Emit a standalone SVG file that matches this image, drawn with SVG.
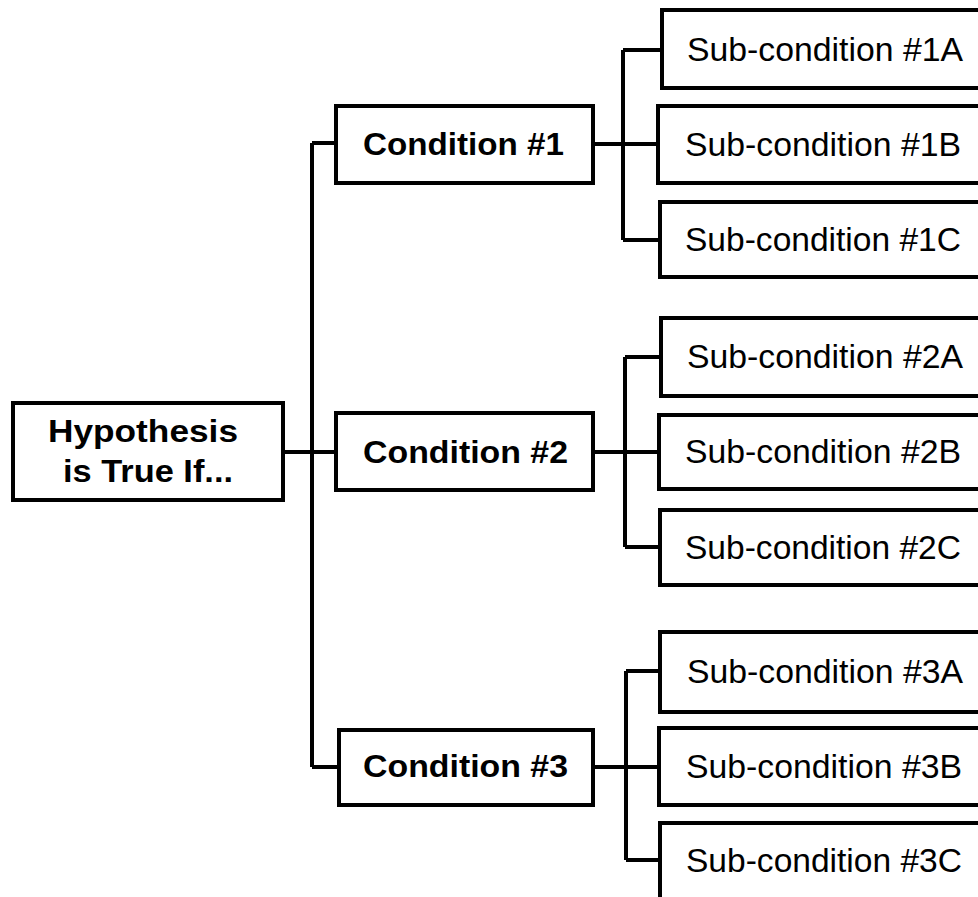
<svg xmlns="http://www.w3.org/2000/svg" width="978" height="897" viewBox="0 0 978 897">
<style>
.box{fill:#fff;stroke:#000;stroke-width:4}
.ln{fill:none;stroke:#000;stroke-width:4}
.b{font-family:"Liberation Sans",Arial,sans-serif;font-weight:bold;font-size:31px;fill:#000}
.s{font-family:"Liberation Sans",Arial,sans-serif;font-size:34px;fill:#000}
</style>
<rect width="978" height="897" fill="#fff"/>
<g id="connectors">
<path class="ln" d="M283,452 H312 M312,143 V767 M312,143 H336 M312,452 H336 M312,767 H339"/>
<path class="ln" d="M593,144 H660 M623,50 V240 M623,50 H662 M623,240 H660"/>
<path class="ln" d="M593,452 H659 M625,357 V547 M625,357 H661 M625,547 H660"/>
<path class="ln" d="M593,767 H660 M626,671 V860 M626,671 H660 M626,860 H660"/>
</g>
<g id="hyp"><rect class="box" x="13" y="403" width="270" height="97"/>
<text class="b" x="48" y="442" textLength="190" lengthAdjust="spacingAndGlyphs">Hypothesis</text>
<text class="b" x="63" y="482" textLength="170" lengthAdjust="spacingAndGlyphs">is True If...</text></g>
<g id="c1"><rect class="box" x="336" y="106" width="257" height="77"/><text class="b" x="363" y="155" textLength="201" lengthAdjust="spacingAndGlyphs">Condition #1</text></g>
<g id="c2"><rect class="box" x="336" y="413" width="257" height="77"/><text class="b" x="363" y="463" textLength="205" lengthAdjust="spacingAndGlyphs">Condition #2</text></g>
<g id="c3"><rect class="box" x="339" y="730" width="254" height="75"/><text class="b" x="363" y="777" textLength="205" lengthAdjust="spacingAndGlyphs">Condition #3</text></g>
<g id="s1a"><rect class="box" x="662" y="10" width="330" height="78"/><text class="s" x="687" y="61" textLength="276" lengthAdjust="spacingAndGlyphs">Sub-condition #1A</text></g>
<g id="s1b"><rect class="box" x="658" y="106" width="334" height="77"/><text class="s" x="685" y="156" textLength="276" lengthAdjust="spacingAndGlyphs">Sub-condition #1B</text></g>
<g id="s1c"><rect class="box" x="660" y="202" width="332" height="75"/><text class="s" x="685" y="251" textLength="276" lengthAdjust="spacingAndGlyphs">Sub-condition #1C</text></g>
<g id="s2a"><rect class="box" x="661" y="318" width="331" height="78"/><text class="s" x="687" y="368" textLength="276" lengthAdjust="spacingAndGlyphs">Sub-condition #2A</text></g>
<g id="s2b"><rect class="box" x="659" y="415" width="333" height="74"/><text class="s" x="685" y="463" textLength="276" lengthAdjust="spacingAndGlyphs">Sub-condition #2B</text></g>
<g id="s2c"><rect class="box" x="660" y="510" width="332" height="75"/><text class="s" x="685" y="559" textLength="276" lengthAdjust="spacingAndGlyphs">Sub-condition #2C</text></g>
<g id="s3a"><rect class="box" x="660" y="632" width="332" height="80"/><text class="s" x="687" y="683" textLength="276" lengthAdjust="spacingAndGlyphs">Sub-condition #3A</text></g>
<g id="s3b"><rect class="box" x="659" y="728" width="333" height="77"/><text class="s" x="686" y="778" textLength="276" lengthAdjust="spacingAndGlyphs">Sub-condition #3B</text></g>
<g id="s3c"><rect class="box" x="660" y="823" width="332" height="90"/><text class="s" x="686" y="872" textLength="276" lengthAdjust="spacingAndGlyphs">Sub-condition #3C</text></g>
</svg>
